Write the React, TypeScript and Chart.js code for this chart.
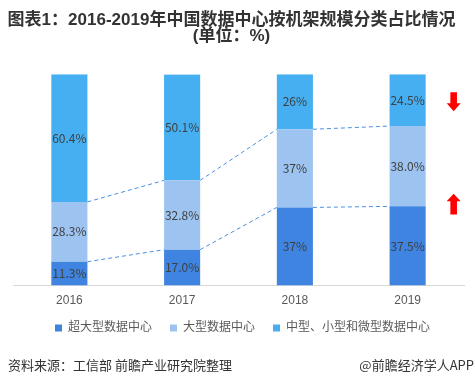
import React, { useEffect, useRef } from "react";
import { Chart, registerables } from "chart.js";

Chart.register(...registerables);

const categories = ["2016", "2017", "2018", "2019"];
const seriesNames = ["超大型数据中心", "大型数据中心", "中型、小型和微型数据中心"];
const hyperScale = [11.3, 17.0, 37, 37.5];
const largeScale = [28.3, 32.8, 37, 38.0];
const smallScale = [60.4, 50.1, 26, 24.5];
const hyperLabels = ["11.3%", "17.0%", "37%", "37.5%"];
const largeLabels = ["28.3%", "32.8%", "37%", "38.0%"];
const smallLabels = ["60.4%", "50.1%", "26%", "24.5%"];
const colors = ["#3F84E0", "#9DC3F0", "#45AFF2"];
const titleLines = ["图表1：2016-2019年中国数据中心按机架规模分类占比情况", "(单位：%)"];
const sourceText = "资料来源：工信部 前瞻产业研究院整理";
const brandText = "@前瞻经济学人APP";

const CJK = "'Liberation Sans', 'Noto Sans CJK SC', sans-serif";

export default function App() {
  const ref = useRef<HTMLCanvasElement | null>(null);

  useEffect(() => {
    document.body.style.margin = "0";
    const canvas = ref.current;
    if (!canvas) return;
    const labelSets = [hyperLabels, largeLabels, smallLabels];

    const overlay = {
      id: "overlay",
      afterLayout(chart: any) {
        const lg = chart.legend;
        if (lg) {
          lg.top -= 12;
          lg.bottom -= 12;
          lg.left += 4;
          lg.right += 4;
        }
        const tb = chart.titleBlock;
        if (tb) {
          tb.left -= 7;
          tb.right -= 7;
        }
      },
      afterDatasetsDraw(chart: any) {
        const ctx = chart.ctx;
        const yScale = chart.scales.y;
        // dashed connectors
        ctx.save();
        ctx.strokeStyle = "#4A8FE3";
        ctx.lineWidth = 1;
        ctx.setLineDash([4, 3]);
        [0, 1].forEach((di) => {
          const meta = chart.getDatasetMeta(di);
          for (let i = 0; i < meta.data.length - 1; i++) {
            const a = meta.data[i];
            const b = meta.data[i + 1];
            ctx.beginPath();
            ctx.moveTo(a.x + a.width / 2, a.y);
            ctx.lineTo(b.x - b.width / 2, b.y);
            ctx.stroke();
          }
        });
        ctx.restore();
        // value labels
        ctx.save();
        ctx.fillStyle = "#404040";
        ctx.font = "12px 'Noto Sans CJK SC', sans-serif";
        ctx.textAlign = "center";
        ctx.textBaseline = "middle";
        labelSets.forEach((labs, di) => {
          const meta = chart.getDatasetMeta(di);
          meta.data.forEach((el: any, i: number) => {
            ctx.fillText(labs[i], el.x, (el.y + el.base) / 2);
          });
        });
        ctx.restore();
        // red arrows beside last bar
        const last = chart.getDatasetMeta(0).data[categories.length - 1];
        const ax = last.x + last.width / 2 + 28;
        ctx.save();
        ctx.fillStyle = "#FF0000";
        // down arrow
        let top = yScale.getPixelForValue(91.5);
        let bottom = yScale.getPixelForValue(82.5);
        let neck = top + (bottom - top) * 0.58;
        ctx.beginPath();
        ctx.moveTo(ax - 3.3, top);
        ctx.lineTo(ax + 3.3, top);
        ctx.lineTo(ax + 3.3, neck);
        ctx.lineTo(ax + 7, neck);
        ctx.lineTo(ax, bottom);
        ctx.lineTo(ax - 7, neck);
        ctx.lineTo(ax - 3.3, neck);
        ctx.closePath();
        ctx.fill();
        // up arrow
        top = yScale.getPixelForValue(43.5);
        bottom = yScale.getPixelForValue(33.6);
        neck = top + (bottom - top) * 0.36;
        ctx.beginPath();
        ctx.moveTo(ax, top);
        ctx.lineTo(ax + 7, neck);
        ctx.lineTo(ax + 3.3, neck);
        ctx.lineTo(ax + 3.3, bottom);
        ctx.lineTo(ax - 3.3, bottom);
        ctx.lineTo(ax - 3.3, neck);
        ctx.lineTo(ax - 7, neck);
        ctx.closePath();
        ctx.fill();
        ctx.restore();
      },
      afterDraw(chart: any) {
        const ctx = chart.ctx;
        ctx.save();
        ctx.fillStyle = "#333333";
        ctx.font = "13px 'Noto Sans CJK SC', sans-serif";
        ctx.textBaseline = "middle";
        ctx.textAlign = "left";
        ctx.fillText(sourceText, 8, 365);
        ctx.textAlign = "right";
        ctx.fillText(brandText, chart.width - 1, 365);
        ctx.restore();
      },
    };

    const chart = new Chart(canvas, {
      type: "bar",
      data: {
        labels: categories,
        datasets: [hyperScale, largeScale, smallScale].map((d, i) => ({
          label: seriesNames[i],
          data: d,
          backgroundColor: colors[i],
          borderWidth: 0,
          categoryPercentage: 0.8,
          barPercentage: 0.4,
        })),
      },
      options: {
        responsive: false,
        animation: false,
        layout: { padding: { left: 13, right: 11, top: 0, bottom: 30 } },
        scales: {
          x: {
            stacked: true,
            grid: { display: false, drawTicks: false },
            border: { display: true, color: "#D9D9D9", width: 1 },
            ticks: { color: "#595959", font: { size: 12, family: CJK }, padding: 8 },
          },
          y: { stacked: true, display: false, min: 0, max: 100 },
        },
        plugins: {
          title: {
            display: true,
            text: titleLines,
            color: "#333333",
            font: { size: 17, weight: "bold", family: CJK, lineHeight: 0.95 },
            padding: { top: 12, bottom: 30 },
          },
          legend: {
            position: "bottom",
            labels: {
              boxWidth: 7,
              boxHeight: 7,
              padding: 18,
              color: "#595959",
              font: { size: 12, family: CJK },
            },
          },
          tooltip: { enabled: false },
        },
      },
      plugins: [overlay],
    });
    return () => chart.destroy();
  }, []);

  return (
    <div style={{ width: 475, height: 386 }}>
      <canvas ref={ref} width={475} height={386} style={{ display: "block" }} />
    </div>
  );
}
